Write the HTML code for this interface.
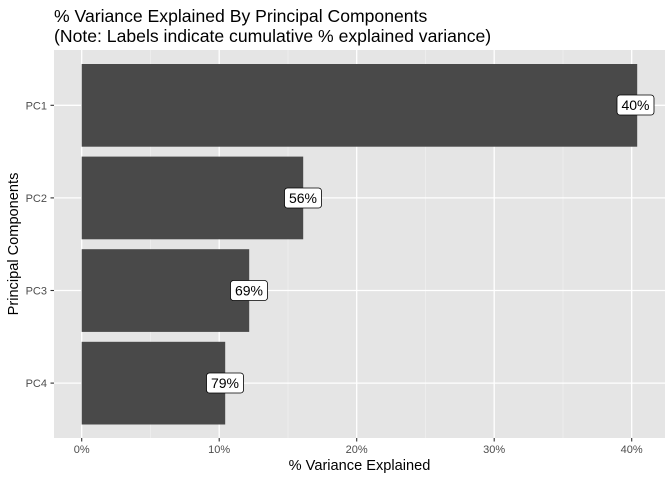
<!DOCTYPE html>
<html><head><style>body{margin:0;background:#fff}svg{display:block;font-family:"Liberation Sans",Arial,sans-serif}</style></head>
<body>
<svg width="672" height="480" xmlns="http://www.w3.org/2000/svg">
<rect width="672" height="480" fill="#fff"/>
<text x="54" y="22" font-size="17.6" fill="#000">% Variance Explained By Principal Components</text>
<text x="54" y="42" font-size="17.6" fill="#000">(Note: Labels indicate cumulative % explained variance)</text>
<rect x="54" y="50" width="611" height="388" fill="#e5e5e5"/>
<g stroke="#f2f2f2" stroke-width="0.6">
<line x1="150.5" y1="50" x2="150.5" y2="438"/><line x1="288" y1="50" x2="288" y2="438"/><line x1="425.5" y1="50" x2="425.5" y2="438"/><line x1="563" y1="50" x2="563" y2="438"/>
</g>
<g stroke="#fff" stroke-width="1.3">
<line x1="81.7" y1="50" x2="81.7" y2="438"/><line x1="219.2" y1="50" x2="219.2" y2="438"/><line x1="356.7" y1="50" x2="356.7" y2="438"/><line x1="494.2" y1="50" x2="494.2" y2="438"/><line x1="631.7" y1="50" x2="631.7" y2="438"/>
<line x1="54" y1="105.3" x2="665" y2="105.3"/><line x1="54" y1="197.9" x2="665" y2="197.9"/><line x1="54" y1="290.5" x2="665" y2="290.5"/><line x1="54" y1="383.1" x2="665" y2="383.1"/>
</g>
<g fill="#494949">
<rect x="81.7" y="64" width="555.5" height="82.7"/>
<rect x="81.7" y="156.6" width="221.5" height="82.7"/>
<rect x="81.7" y="249.2" width="167.5" height="82.7"/>
<rect x="81.7" y="341.8" width="143.5" height="82.7"/>
</g>
<g font-size="14" text-anchor="middle">
<rect x="617" y="95" width="37" height="20" rx="3" fill="#fff" stroke="#000" stroke-width="0.8"/><text x="635.5" y="110">40%</text>
<rect x="284.5" y="188" width="37" height="20" rx="3" fill="#fff" stroke="#000" stroke-width="0.8"/><text x="303" y="203">56%</text>
<rect x="230.5" y="280.5" width="37" height="20" rx="3" fill="#fff" stroke="#000" stroke-width="0.8"/><text x="249" y="295.5">69%</text>
<rect x="206.5" y="373" width="37" height="20" rx="3" fill="#fff" stroke="#000" stroke-width="0.8"/><text x="225" y="388">79%</text>
</g>
<g stroke="#333" stroke-width="1.1">
<line x1="50.5" y1="105.3" x2="54" y2="105.3"/><line x1="50.5" y1="197.9" x2="54" y2="197.9"/><line x1="50.5" y1="290.5" x2="54" y2="290.5"/><line x1="50.5" y1="383.1" x2="54" y2="383.1"/>
<line x1="81.7" y1="438" x2="81.7" y2="441.5"/><line x1="219.2" y1="438" x2="219.2" y2="441.5"/><line x1="356.7" y1="438" x2="356.7" y2="441.5"/><line x1="494.2" y1="438" x2="494.2" y2="441.5"/><line x1="631.7" y1="438" x2="631.7" y2="441.5"/>
</g>
<g font-size="11" fill="#4d4d4d" text-anchor="end">
<text x="47" y="109.3">PC1</text><text x="47" y="201.9">PC2</text><text x="47" y="294.5">PC3</text><text x="47" y="387.1">PC4</text>
</g>
<g font-size="11" fill="#4d4d4d" text-anchor="middle">
<text x="81.7" y="453">0%</text><text x="219.2" y="453">10%</text><text x="356.7" y="453">20%</text><text x="494.2" y="453">30%</text><text x="631.7" y="453">40%</text>
</g>
<text x="359.5" y="470" font-size="14.6" text-anchor="middle">% Variance Explained</text>
<text transform="translate(18,244) rotate(-90)" font-size="14.6" text-anchor="middle">Principal Components</text>
</svg>
</body></html>
